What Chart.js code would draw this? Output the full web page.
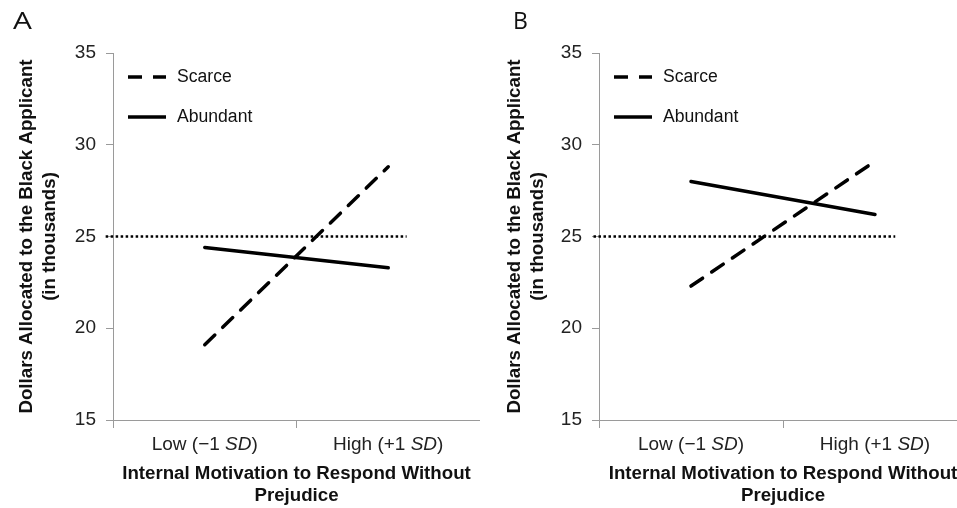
<!DOCTYPE html>
<html><head><meta charset="utf-8">
<script src="https://cdn.jsdelivr.net/npm/chart.js@4.4.1/dist/chart.umd.min.js"></script>
<style>
html,body{margin:0;padding:0;background:#fff;overflow:hidden;width:957px;height:508px;position:relative;}
.panel{position:absolute;top:0;height:508px;}
#pa{left:0;width:480px;}
#pb{left:480px;width:487px;}
.letter{position:absolute;font-family:"Open Sans",sans-serif;font-size:23px;color:#111;line-height:23px;transform-origin:left top;}
</style></head><body>
<div class="panel" id="pa"><canvas id="ca" width="480" height="508"></canvas></div>
<div class="panel" id="pb"><canvas id="cb" width="487" height="508"></canvas></div>
<div class="letter" style="left:13px;top:9px;transform:scaleX(1.3);">A</div>
<div class="letter" style="left:513px;top:9px;">B</div>
<script>
// ---- data ----
const categories = ['Low (\u22121 SD)', 'High (+1 SD)'];
const yTicks = [15, 20, 25, 30, 35];
const seriesNames = ['Scarce', 'Abundant'];
const scarceA = [19.1, 28.8];
const abundantA = [24.4, 23.3];
const scarceB = [22.3, 29.1];
const abundantB = [28.0, 26.2];
const refValue = 25;
const refSpanA = [-0.04, 1.60];
const refSpanB = [-0.03, 1.61];
const xTitle = ['Internal Motivation to Respond Without', 'Prejudice'];
const yTitle = ['Dollars Allocated to the Black Applicant', '(in thousands)'];

Chart.defaults.font.family = '"Liberation Sans", Arial, Helvetica, sans-serif';
Chart.defaults.color = '#222';

const insetLegend = {
  id: 'insetLegend',
  afterDatasetsDraw(chart, args, opts) {
    const {ctx, chartArea} = chart;
    let i = 0;
    chart.data.datasets.forEach(ds => {
      if (!ds.showInLegend) return;
      const y = chartArea.top + opts.top + i * opts.spacing;
      ctx.save();
      ctx.strokeStyle = ds.borderColor;
      ctx.lineWidth = ds.borderWidth;
      ctx.setLineDash(ds.borderDash || []);
      ctx.lineCap = 'butt';
      ctx.beginPath();
      ctx.moveTo(chartArea.left + opts.x0, y);
      ctx.lineTo(chartArea.left + opts.x1, y);
      ctx.stroke();
      ctx.setLineDash([]);
      ctx.fillStyle = '#111';
      ctx.font = '17.6px "Liberation Sans", Arial, sans-serif';
      ctx.textBaseline = 'middle';
      ctx.textAlign = 'left';
      ctx.fillText(ds.label, chartArea.left + opts.tx, y);
      ctx.restore();
      i++;
    });
  }
};

const richTicks = {
  id: 'richTicks',
  afterDraw(chart, args, opts) {
    const sc = chart.scales.x;
    const ctx = chart.ctx;
    ctx.save();
    ctx.fillStyle = '#222';
    ctx.textBaseline = 'middle';
    ctx.textAlign = 'left';
    const fam = '"Liberation Sans", Arial, sans-serif';
    sc.getLabels().forEach((lab, i) => {
      const parts = lab.split(/(SD)/).filter(Boolean).map(t => ({t, f: (t === 'SD' ? 'italic ' : '') + '19px ' + fam}));
      let total = 0;
      parts.forEach(p => { ctx.font = p.f; p.w = ctx.measureText(p.t).width; total += p.w; });
      let x = sc.getPixelForValue(i) - total / 2;
      const y = sc.top + opts.dy;
      parts.forEach(p => { ctx.font = p.f; ctx.fillText(p.t, x, y); x += p.w; });
    });
    ctx.restore();
  }
};

function makeChart(id, scarce, abundant, refSpan, yWidth, yTitlePad) {
  const lineStyle = {borderColor: '#000', borderWidth: 3.5, pointRadius: 0, tension: 0, fill: false, borderCapStyle: 'round'};
  return new Chart(document.getElementById(id), {
    type: 'line',
    data: {
      labels: categories,
      datasets: [
        Object.assign({label: seriesNames[0], data: scarce, borderDash: [14, 11], showInLegend: true}, lineStyle),
        Object.assign({label: seriesNames[1], data: abundant, showInLegend: true}, lineStyle),
        {label: 'reference', data: refSpan.map(v => ({x: v, y: refValue})), xAxisID: 'xr',
         borderColor: '#000', borderWidth: 2.5, borderDash: [2.5, 2.5], pointRadius: 0, clip: false, showInLegend: false}
      ]
    },
    options: {
      responsive: false,
      animation: false,
      events: [],
      layout: {padding: {top: 53, left: 0, right: 0, bottom: 0}},
      plugins: {
        legend: {display: false},
        tooltip: {enabled: false},
        insetLegend: {top: 24, spacing: 40, x0: 15, x1: 53, tx: 64},
        richTicks: {dy: 25}
      },
      scales: {
        x: {
          type: 'category', offset: true,
          grid: {display: true, drawOnChartArea: false, drawTicks: true, tickLength: 8, color: '#9a9a9a', offset: true},
          border: {display: true, color: '#9a9a9a', width: 1},
          ticks: {display: false},
          title: {display: true, text: xTitle, color: '#111', font: {size: 18.7, weight: 'bold', lineHeight: 1.18}, padding: {top: 0, bottom: 1}},
          afterFit(s) { s.height = 88; }
        },
        xr: {type: 'linear', min: 0, max: 2, display: false},
        y: {
          min: 15, max: 35,
          afterBuildTicks(s) { s.ticks = yTicks.map(v => ({value: v})); },
          ticks: {padding: 10, color: '#222', font: {size: 19}},
          grid: {drawOnChartArea: false, tickLength: 7, color: '#9a9a9a'},
          border: {display: true, color: '#9a9a9a', width: 1},
          title: {display: true, text: yTitle, color: '#111', font: {size: 18.7, weight: 'bold', lineHeight: 1.23}, padding: {top: yTitlePad, bottom: 0}},
          afterFit(s) { s.width = yWidth; }
        }
      }
    },
    plugins: [insetLegend, richTicks]
  });
}

makeChart('ca', scarceA, abundantA, refSpanA, 113, 15.5);
makeChart('cb', scarceB, abundantB, refSpanB, 119, 23);
</script>
</body></html>
